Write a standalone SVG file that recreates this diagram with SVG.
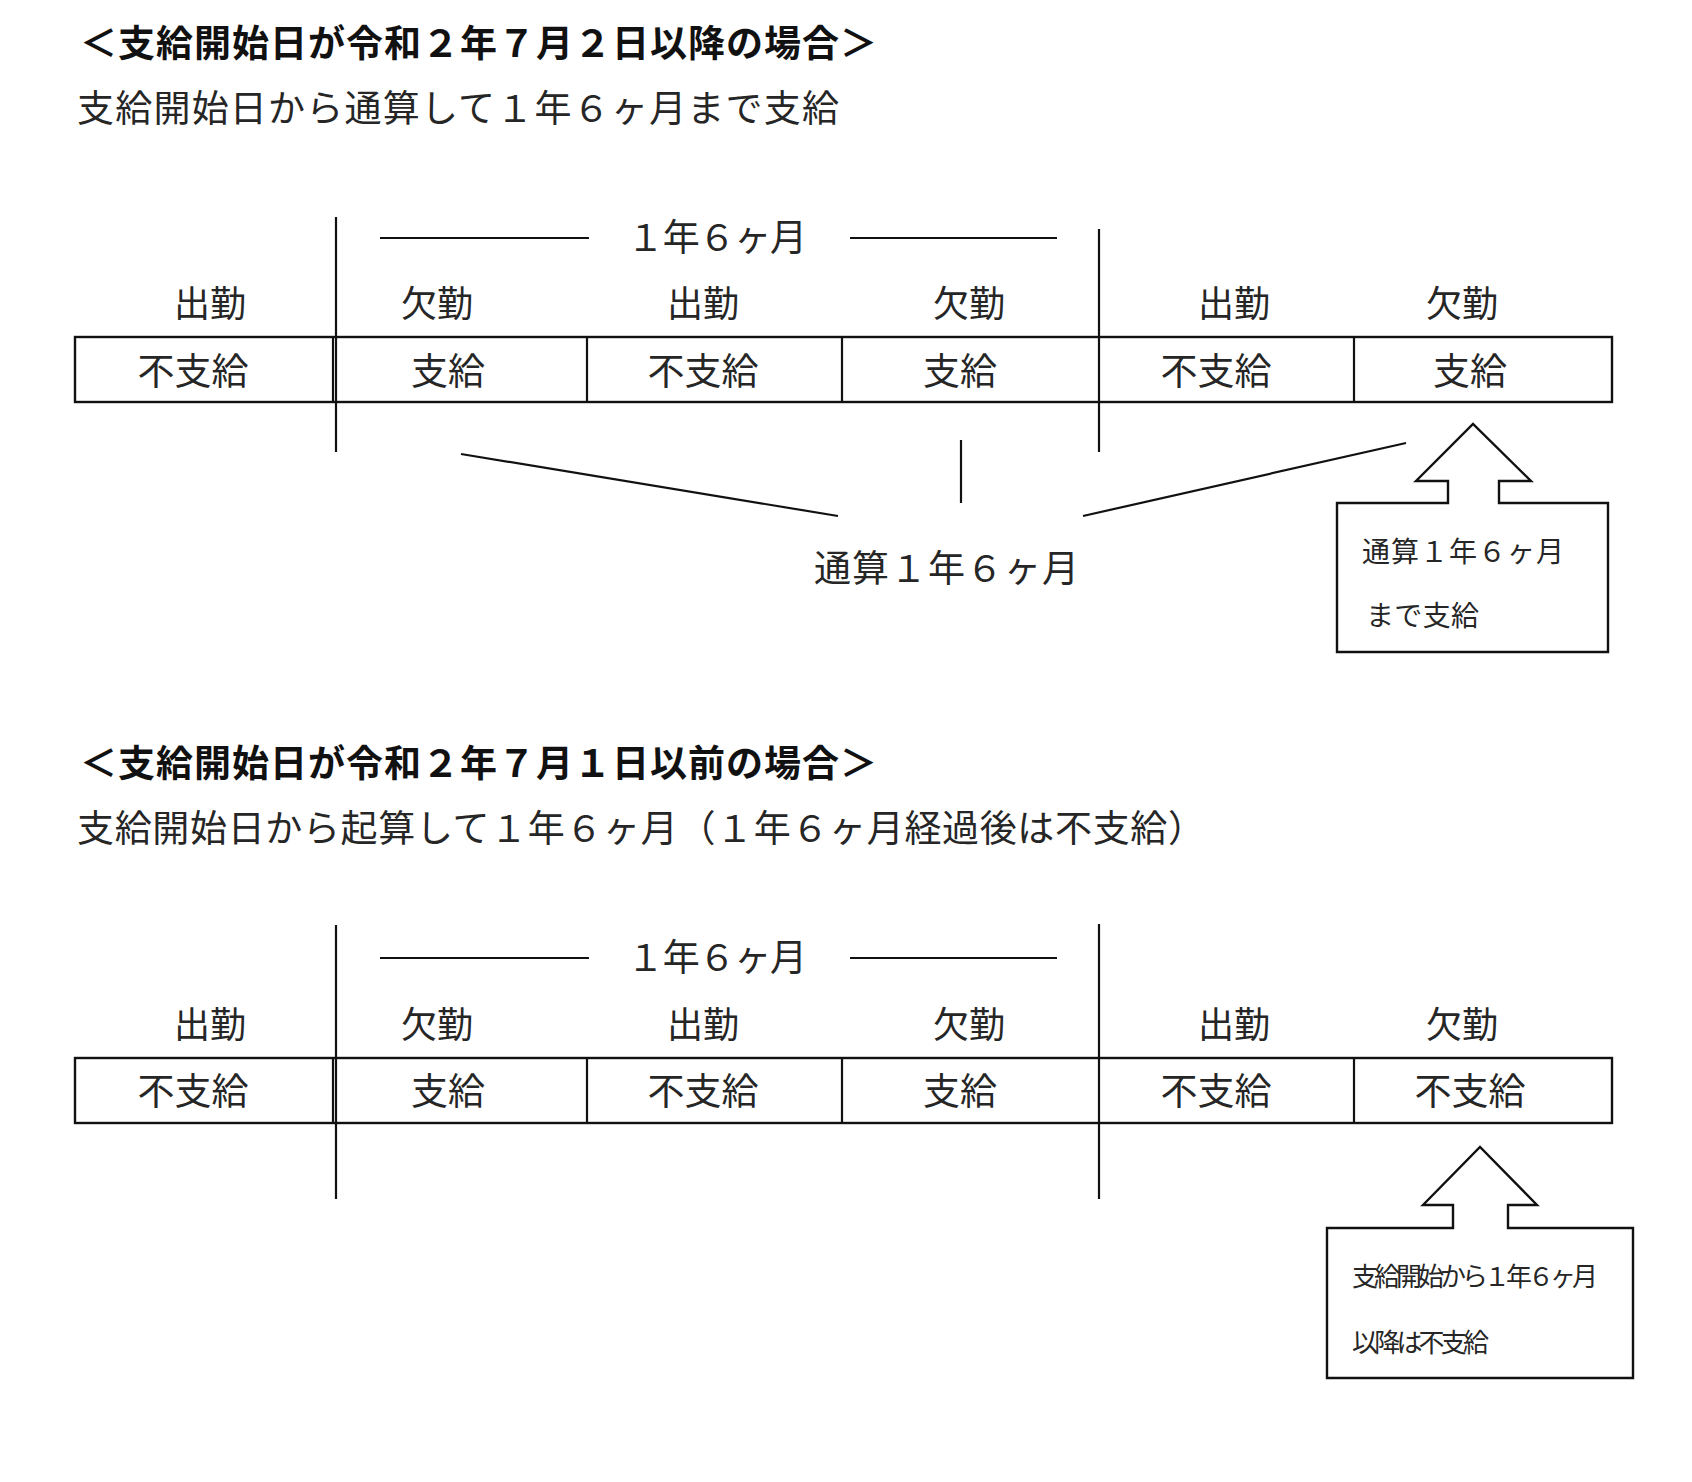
<svg xmlns="http://www.w3.org/2000/svg" width="1692" height="1482" viewBox="0 0 1692 1482">
<style>
text{font-family:"Noto Sans CJK JP","Noto Sans CJK SC",sans-serif;fill:#262626}
.title{font-size:37px;font-weight:bold;fill:#111}
.sub{font-size:37px}
.lab{font-size:36px;text-anchor:middle}
.cell{font-size:37px;text-anchor:middle}
.mid{font-size:37px}
.box1{font-size:28px}
.box2{font-size:26px}
.ln{stroke:#111;stroke-width:2.2;fill:none}
.tb{stroke:#111;stroke-width:2.4;fill:#fff}
.call{stroke:#111;stroke-width:2.4;fill:#fff;stroke-linejoin:miter}
</style>
<rect width="1692" height="1482" fill="#fff"/>

<!-- Section 1 -->
<g id="section1-heading">
<text class="title" x="80" y="57" textLength="797" lengthAdjust="spacing">＜支給開始日が令和２年７月２日以降の場合＞</text>
<text class="sub" x="77" y="122" textLength="762" lengthAdjust="spacing">支給開始日から通算して１年６ヶ月まで支給</text>
</g>
<g id="table1">
<rect class="tb" x="75" y="337" width="1537" height="65"/>
<line class="ln" x1="333" y1="337" x2="333" y2="402"/>
<line class="ln" x1="587" y1="337" x2="587" y2="402"/>
<line class="ln" x1="842" y1="337" x2="842" y2="402"/>
<line class="ln" x1="1354" y1="337" x2="1354" y2="402"/>
<text class="cell" x="193" y="385">不支給</text>
<text class="cell" x="448" y="385">支給</text>
<text class="cell" x="703" y="385">不支給</text>
<text class="cell" x="960" y="385">支給</text>
<text class="cell" x="1216" y="385">不支給</text>
<text class="cell" x="1470" y="385">支給</text>
</g>
<g id="labels1">
<text class="lab" x="210" y="317">出勤</text>
<text class="lab" x="437" y="317">欠勤</text>
<text class="lab" x="703" y="317">出勤</text>
<text class="lab" x="969" y="317">欠勤</text>
<text class="lab" x="1234" y="317">出勤</text>
<text class="lab" x="1462" y="317">欠勤</text>
<text class="mid" x="627" y="251" font-size="36" textLength="180" lengthAdjust="spacing">１年６ヶ月</text>
<text class="mid" x="814" y="582" textLength="265" lengthAdjust="spacing">通算１年６ヶ月</text>
</g>
<g id="connectors1">
<line class="ln" x1="336" y1="217" x2="336" y2="452"/>
<line class="ln" x1="1099" y1="229" x2="1099" y2="452"/>
<line class="ln" x1="380" y1="238" x2="589" y2="238"/>
<line class="ln" x1="850" y1="238" x2="1057" y2="238"/>
<line class="ln" x1="461" y1="454" x2="838" y2="516"/>
<line class="ln" x1="961" y1="440" x2="961" y2="503"/>
<line class="ln" x1="1083" y1="516" x2="1406" y2="443"/>
</g>
<g id="callout1">
<path class="call" d="M1337,503 L1448,503 L1448,481 L1416,481 L1473,424 L1531,481 L1499,481 L1499,503 L1608,503 L1608,652 L1337,652 Z"/>
<text class="box1" x="1362" y="562" textLength="202" lengthAdjust="spacing">通算１年６ヶ月</text>
<text class="box1" x="1366" y="626" textLength="113" lengthAdjust="spacing">まで支給</text>
</g>

<!-- Section 2 -->
<g id="section2-heading">
<text class="title" x="80" y="777" textLength="797" lengthAdjust="spacing">＜支給開始日が令和２年７月１日以前の場合＞</text>
<text class="sub" x="77" y="842" textLength="1128" lengthAdjust="spacing">支給開始日から起算して１年６ヶ月（１年６ヶ月経過後は不支給）</text>
</g>
<g id="table2">
<rect class="tb" x="75" y="1058" width="1537" height="65"/>
<line class="ln" x1="333" y1="1058" x2="333" y2="1123"/>
<line class="ln" x1="587" y1="1058" x2="587" y2="1123"/>
<line class="ln" x1="842" y1="1058" x2="842" y2="1123"/>
<line class="ln" x1="1354" y1="1058" x2="1354" y2="1123"/>
<text class="cell" x="193" y="1105">不支給</text>
<text class="cell" x="448" y="1105">支給</text>
<text class="cell" x="703" y="1105">不支給</text>
<text class="cell" x="960" y="1105">支給</text>
<text class="cell" x="1216" y="1105">不支給</text>
<text class="cell" x="1470" y="1105">不支給</text>
</g>
<g id="labels2">
<text class="lab" x="210" y="1038">出勤</text>
<text class="lab" x="437" y="1038">欠勤</text>
<text class="lab" x="703" y="1038">出勤</text>
<text class="lab" x="969" y="1038">欠勤</text>
<text class="lab" x="1234" y="1038">出勤</text>
<text class="lab" x="1462" y="1038">欠勤</text>
<text class="mid" x="627" y="971" font-size="36" textLength="180" lengthAdjust="spacing">１年６ヶ月</text>
</g>
<g id="connectors2">
<line class="ln" x1="336" y1="925" x2="336" y2="1199"/>
<line class="ln" x1="1099" y1="924" x2="1099" y2="1199"/>
<line class="ln" x1="380" y1="958" x2="589" y2="958"/>
<line class="ln" x1="850" y1="958" x2="1057" y2="958"/>
</g>
<g id="callout2">
<path class="call" d="M1327,1228 L1453,1228 L1453,1205 L1423,1205 L1480,1147 L1537,1205 L1508,1205 L1508,1228 L1633,1228 L1633,1378 L1327,1378 Z"/>
<text class="box2" x="1352" y="1286" textLength="246" lengthAdjust="spacing">支給開始から１年６ヶ月</text>
<text class="box2" x="1352" y="1352" textLength="137" lengthAdjust="spacing">以降は不支給</text>
</g>
</svg>
